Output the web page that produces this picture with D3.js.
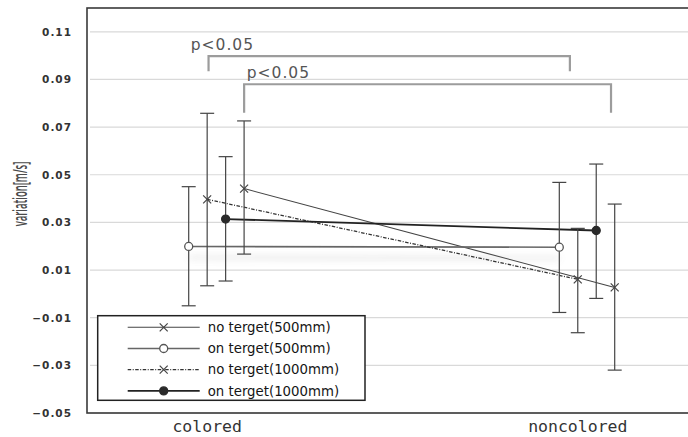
<!DOCTYPE html>
<html>
<head>
<meta charset="utf-8">
<script src="https://cdn.jsdelivr.net/npm/d3@7"></script>
<style>
  body { margin: 0; background: #fff; }
  svg { display: block; }
</style>
</head>
<body>
<div id="chart"></div>
<script>
// Data
const categories = ["colored", "noncolored"];
const seriesNames = ["no terget(500mm)", "on terget(500mm)", "no terget(1000mm)", "on terget(1000mm)"];
// left-to-right order of the points inside each category
const slotOrder = ["on terget(500mm)", "no terget(1000mm)", "on terget(1000mm)", "no terget(500mm)"];

const meanNo500 = [0.0442, 0.0027];
const lowNo500 = [0.0167, -0.0320];
const highNo500 = [0.0726, 0.0377];

const meanOn500 = [0.0199, 0.0196];
const lowOn500 = [-0.0050, -0.0078];
const highOn500 = [0.0450, 0.0468];

const meanNo1000 = [0.0397, 0.0061];
const lowNo1000 = [0.0034, -0.0163];
const highNo1000 = [0.0758, 0.0275];

const meanOn1000 = [0.0314, 0.0266];
const lowOn1000 = [0.0054, -0.0019];
const highOn1000 = [0.0576, 0.0545];

const yTicks = [-0.05, -0.03, -0.01, 0.01, 0.03, 0.05, 0.07, 0.09, 0.11];

// significance brackets (x in category units, 0 = colored, 1 = noncolored)
const bracketText = ["p<0.05", "p<0.05"];
const bracketX1 = [0.005, 0.101];
const bracketX2 = [0.980, 1.091];
const bracketTop = [0.0998, 0.0880];
const bracketEnd = [0.0935, 0.0760];
const bracketTextX = [-0.043, 0.108];

const series = [
  { name: seriesNames[0], mean: meanNo500, low: lowNo500, high: highNo500,
    marker: "cross", stroke: "#444", width: 1.1, dash: null },
  { name: seriesNames[1], mean: meanOn500, low: lowOn500, high: highOn500,
    marker: "open", stroke: "#666", width: 1.6, dash: null, shadow: true },
  { name: seriesNames[2], mean: meanNo1000, low: lowNo1000, high: highNo1000,
    marker: "cross", stroke: "#333", width: 1.3, dash: "3.5,1.5,1,1.5" },
  { name: seriesNames[3], mean: meanOn1000, low: lowOn1000, high: highOn1000,
    marker: "filled", stroke: "#222", width: 1.8, dash: null }
];

// Dimensions
const width = 688;
const height = 437;
const plot = { left: 87, top: 8, bottom: 413, right: 700 };

const svg = d3.select("#chart").append("svg")
  .attr("width", width)
  .attr("height", height);

const defs = svg.append("defs");
const shadow = defs.append("filter")
  .attr("id", "shadow")
  .attr("filterUnits", "userSpaceOnUse")
  .attr("x", 0).attr("y", 0)
  .attr("width", width).attr("height", height);
shadow.append("feDropShadow")
  .attr("dx", 0).attr("dy", 11)
  .attr("stdDeviation", 3.5)
  .attr("flood-color", "#888")
  .attr("flood-opacity", 0.45);

// Scales
const x = d3.scaleLinear()
  .domain([0, 1])
  .range([206.7, 577.3]);

const slot = d3.scalePoint()
  .domain(slotOrder)
  .range([-18, 37.4]);

const y = d3.scaleLinear()
  .domain([-0.05, 0.12])
  .range([plot.bottom, plot.top]);

const px = (i, name) => x(i) + slot(name);

// Gridlines
svg.append("g")
  .selectAll("line")
  .data(yTicks)
  .enter()
  .append("line")
    .attr("x1", plot.left + 3)
    .attr("x2", width)
    .attr("y1", d => y(d))
    .attr("y2", d => y(d))
    .attr("stroke", "#d9d9d9")
    .attr("stroke-width", 1.2);

// Frame
svg.append("rect")
  .attr("x", plot.left)
  .attr("y", plot.top)
  .attr("width", plot.right - plot.left)
  .attr("height", plot.bottom - plot.top)
  .attr("fill", "none")
  .attr("stroke", "#3a3a3a")
  .attr("stroke-width", 1.6);

// Y axis
const yAxis = svg.append("g")
  .attr("transform", `translate(${plot.left}, 0)`)
  .call(d3.axisLeft(y).tickValues(yTicks).tickSize(0).tickPadding(15)
    .tickFormat(d3.format(".2f")));
yAxis.select(".domain").remove();
yAxis.selectAll("text")
  .attr("font-family", "DejaVu Sans")
  .attr("font-weight", "bold")
  .attr("font-size", 10.5)
  .attr("letter-spacing", 1)
  .attr("fill", "#333");

// X axis labels
const xAxis = svg.append("g")
  .attr("transform", `translate(0, ${plot.bottom})`)
  .call(d3.axisBottom(x).tickValues([0, 1]).tickSize(0).tickPadding(0)
    .tickFormat(i => categories[i]));
xAxis.select(".domain").remove();
xAxis.selectAll("text")
  .attr("dy", 19)
  .attr("font-family", "DejaVu Sans Mono")
  .attr("font-size", 16.5)
  .attr("fill", "#333");

// Axis title (glyphs look stretched across, so squeeze along the text)
svg.append("text")
  .attr("transform", "translate(27, 194) rotate(-90) scale(0.5, 1)")
  .attr("text-anchor", "middle")
  .attr("font-family", "Open Sans")
  .attr("font-weight", 600)
  .attr("font-size", 19)
  .attr("fill", "#4a4a4a")
  .text("variation[m/s]");

// Brackets
bracketText.forEach((label, i) => {
  const xa = x(bracketX1[i]);
  const xb = x(bracketX2[i]);
  const yt = y(bracketTop[i]);
  const ye = y(bracketEnd[i]);
  svg.append("path")
    .attr("d", `M${xa},${ye}V${yt}H${xb}V${ye}`)
    .attr("fill", "none")
    .attr("stroke", "#9c9c9c")
    .attr("stroke-width", 2.2);
  svg.append("text")
    .attr("x", x(bracketTextX[i]))
    .attr("y", yt - 6)
    .attr("font-family", "DejaVu Sans")
    .attr("font-size", 15.5)
    .attr("letter-spacing", 1)
    .attr("fill", "#555")
    .text(label);
});

// Connecting lines
const line = d3.line()
  .x((d, i) => px(i, d.name))
  .y(d => y(d.v));

series.forEach(s => {
  const pts = s.mean.map(v => ({ v: v, name: s.name }));
  svg.append("path")
    .datum(pts)
    .attr("fill", "none")
    .attr("stroke", s.stroke)
    .attr("stroke-width", s.width)
    .attr("stroke-dasharray", s.dash)
    .attr("filter", s.shadow ? "url(#shadow)" : null)
    .attr("d", line);
});

// Error bars
const capHalf = 7;
series.forEach(s => {
  s.mean.forEach((m, i) => {
    const cx = px(i, s.name);
    const g = svg.append("g")
      .attr("stroke", "#454545")
      .attr("stroke-width", 1.2);
    g.append("line")
      .attr("x1", cx).attr("x2", cx)
      .attr("y1", y(s.low[i])).attr("y2", y(s.high[i]));
    g.append("line")
      .attr("x1", cx - capHalf).attr("x2", cx + capHalf)
      .attr("y1", y(s.low[i])).attr("y2", y(s.low[i]));
    g.append("line")
      .attr("x1", cx - capHalf).attr("x2", cx + capHalf)
      .attr("y1", y(s.high[i])).attr("y2", y(s.high[i]));
  });
});

// Markers
function drawMarker(g, type, cx, cy) {
  if (type === "cross") {
    const r = 4;
    g.append("path")
      .attr("d", `M${cx - r},${cy - r}L${cx + r},${cy + r}M${cx - r},${cy + r}L${cx + r},${cy - r}`)
      .attr("stroke", "#444")
      .attr("stroke-width", 1.2)
      .attr("fill", "none");
  } else {
    g.append("circle")
      .attr("cx", cx)
      .attr("cy", cy)
      .attr("r", 4)
      .attr("fill", type === "open" ? "#fff" : "#2a2a2a")
      .attr("stroke", type === "open" ? "#555" : "#2a2a2a")
      .attr("stroke-width", 1.3);
  }
}

const markers = svg.append("g");
series.forEach(s => {
  s.mean.forEach((m, i) => drawMarker(markers, s.marker, px(i, s.name), y(m)));
});

// Legend
const legend = svg.append("g")
  .attr("transform", "translate(97.7, 315.7)");

legend.append("rect")
  .attr("width", 267.3)
  .attr("height", 84.6)
  .attr("fill", "#fff")
  .attr("stroke", "#222")
  .attr("stroke-width", 1.5);

series.forEach((s, i) => {
  const ry = 11.6 + i * 21.2;
  legend.append("line")
    .attr("x1", 30).attr("x2", 102)
    .attr("y1", ry).attr("y2", ry)
    .attr("stroke", s.stroke)
    .attr("stroke-width", s.width)
    .attr("stroke-dasharray", s.dash);
  drawMarker(legend, s.marker, 66, ry);
  legend.append("text")
    .attr("x", 110)
    .attr("y", ry)
    .attr("dy", "0.35em")
    .attr("font-family", "DejaVu Sans")
    .attr("font-size", 13.3)
    .attr("fill", "#151515")
    .text(s.name);
});
</script>
</body>
</html>
